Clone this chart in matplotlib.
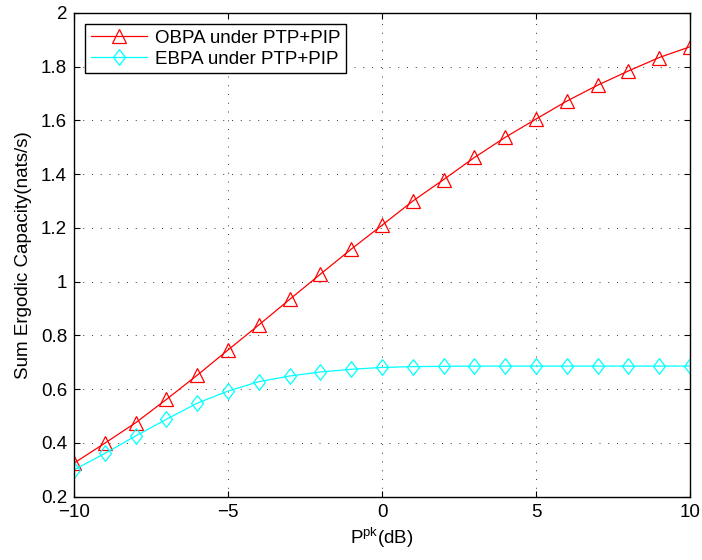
import matplotlib
matplotlib.use('Agg')
import matplotlib.pyplot as plt
from matplotlib.ticker import FuncFormatter, MultipleLocator

plt.rcParams['font.family'] = ['Liberation Sans', 'DejaVu Sans']
plt.rcParams['mathtext.default'] = 'regular'

# peak power constraint in dB
p_pk = [-10, -9, -8, -7, -6, -5, -4, -3, -2, -1, 0, 1, 2, 3, 4, 5, 6, 7, 8, 9, 10]
# sum ergodic capacity (nats/s)
obpa = [0.325, 0.399, 0.475, 0.562, 0.652, 0.746, 0.839, 0.934, 1.028, 1.121,
        1.21, 1.30, 1.38, 1.462, 1.537, 1.605, 1.672, 1.731, 1.784, 1.834, 1.874]
ebpa = [0.30, 0.361, 0.426, 0.488, 0.548, 0.593, 0.628, 0.649, 0.664, 0.674,
        0.681, 0.684, 0.685, 0.686, 0.686, 0.686, 0.686, 0.686, 0.686, 0.686, 0.686]

# MATLAB-style diamond, a bit wider than matplotlib's thin 'd'
diamond = [(0, 1), (0.76, 0), (0, -1), (-0.76, 0), (0, 1)]

fig = plt.figure(figsize=(7.02, 5.6), dpi=100)
ax = fig.add_axes([0.1054, 0.113, 0.8776, 0.864])

ax.plot(p_pk, obpa, color='#ff0000', lw=0.9, marker='^', ms=9.5, mfc='none', mew=0.9,
        label='OBPA under PTP+PIP')
ax.plot(p_pk, ebpa, color='#00ffff', lw=0.9, marker=diamond, ms=11.3, mfc='none',
        mew=0.9, label='EBPA under PTP+PIP')

ax.set_xlim(-10, 10)
ax.set_ylim(0.2, 2)
ax.xaxis.set_major_locator(MultipleLocator(5))
ax.yaxis.set_major_locator(MultipleLocator(0.2))
ax.yaxis.set_major_formatter(FuncFormatter(lambda v, p: '%g' % round(v, 2)))
ax.tick_params(direction='in', top=True, right=True, length=4, width=0.8,
               labelsize=13.5, pad=5)
for s in ax.spines.values():
    s.set_linewidth(1.0)
ax.grid(True, color='0.2', linestyle=(0, (1, 8)), linewidth=0.7)

ax.set_xlabel('P$^{pk}$(dB)', fontsize=13.5, labelpad=4)
ax.set_ylabel('Sum Ergodic Capacity(nats/s)', fontsize=13.5, labelpad=6)

leg = ax.legend(loc='upper left', fontsize=13.5, fancybox=False, framealpha=1,
                edgecolor='k', handlelength=3.0, borderpad=0.3, labelspacing=0.2,
                borderaxespad=0.6, handletextpad=0.4)
leg.get_frame().set_linewidth(1.0)

plt.savefig('out.png', dpi=100)
